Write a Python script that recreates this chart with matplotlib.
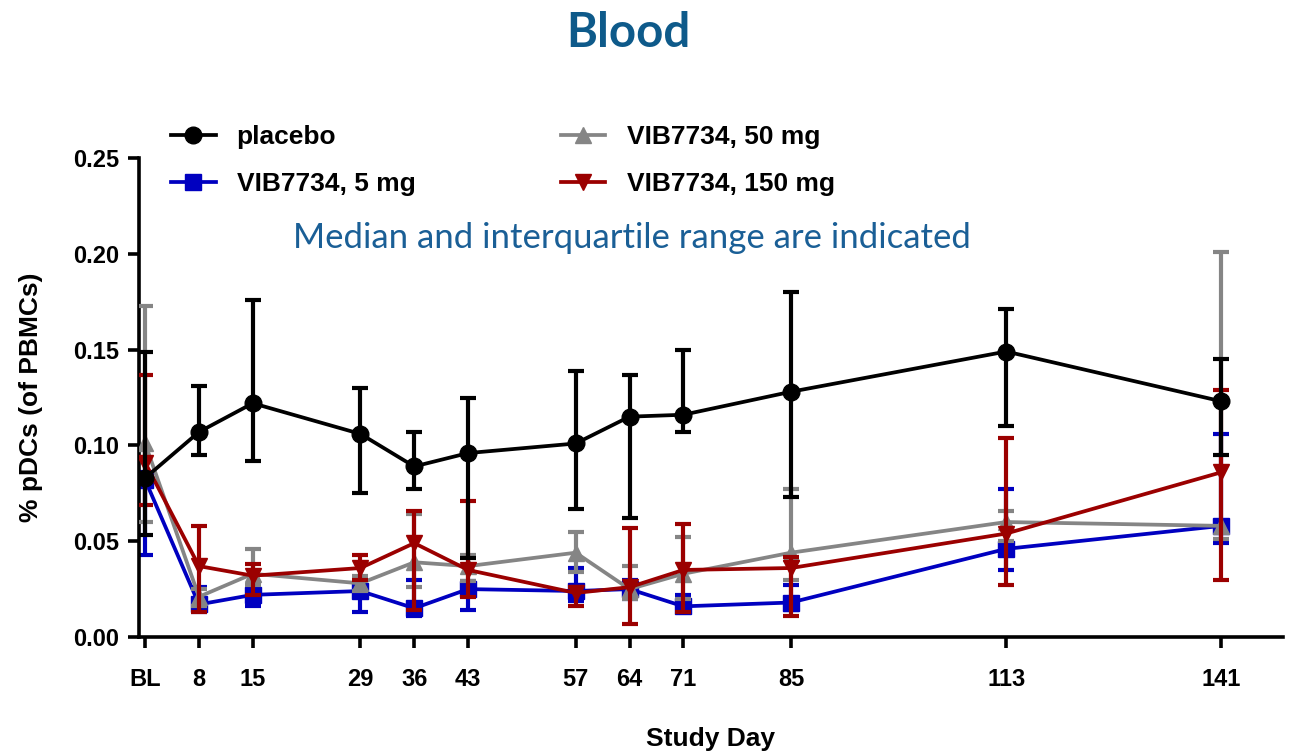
import numpy as np
import matplotlib
matplotlib.use("Agg")
import matplotlib.pyplot as plt

# Study days (BL plotted at day 1) and tick labels
days = [1, 8, 15, 29, 36, 43, 57, 64, 71, 85, 113, 141]
day_labels = ["BL", "8", "15", "29", "36", "43", "57", "64", "71", "85", "113", "141"]

# % pDCs of PBMCs: median with lower / upper quartile
placebo_med = [0.083, 0.107, 0.122, 0.106, 0.089, 0.096, 0.101, 0.115, 0.116, 0.128, 0.149, 0.123]
placebo_lo = [0.053, 0.095, 0.092, 0.075, 0.077, 0.041, 0.067, 0.062, 0.107, 0.073, 0.110, 0.095]
placebo_hi = [0.149, 0.131, 0.176, 0.130, 0.107, 0.125, 0.139, 0.137, 0.150, 0.180, 0.171, 0.145]

mg5_med = [0.082, 0.017, 0.022, 0.024, 0.015, 0.025, 0.024, 0.025, 0.016, 0.018, 0.046, 0.058]
mg5_lo = [0.043, 0.013, 0.016, 0.013, 0.011, 0.014, 0.019, 0.020, 0.013, 0.014, 0.035, 0.049]
mg5_hi = [0.086, 0.026, 0.026, 0.030, 0.030, 0.029, 0.036, 0.030, 0.022, 0.027, 0.077, 0.106]

mg50_med = [0.101, 0.021, 0.033, 0.028, 0.039, 0.037, 0.044, 0.025, 0.033, 0.044, 0.060, 0.058]
mg50_lo = [0.060, 0.016, 0.027, 0.024, 0.026, 0.029, 0.034, 0.020, 0.020, 0.030, 0.050, 0.051]
mg50_hi = [0.173, 0.025, 0.046, 0.032, 0.064, 0.043, 0.055, 0.037, 0.052, 0.077, 0.066, 0.201]

mg150_med = [0.091, 0.037, 0.032, 0.036, 0.049, 0.035, 0.023, 0.026, 0.035, 0.036, 0.054, 0.086]
mg150_lo = [0.069, 0.013, 0.022, 0.030, 0.014, 0.021, 0.016, 0.007, 0.013, 0.011, 0.027, 0.030]
mg150_hi = [0.137, 0.058, 0.038, 0.043, 0.066, 0.071, 0.026, 0.057, 0.059, 0.042, 0.104, 0.129]

TITLE_BLUE = "#0e5a8a"
NOTE_BLUE = "#1a5f96"

plt.rcParams["font.family"] = ["Liberation Sans", "DejaVu Sans"]
plt.rcParams["font.weight"] = "bold"

fig = plt.figure(figsize=(12.91, 7.51), dpi=100)
ax = fig.add_axes([139 / 1291, 1 - 637 / 751, (1283 - 139) / 1291, (637 - 158) / 751])

series = [
    ("VIB7734, 5 mg", mg5_med, mg5_lo, mg5_hi, "#0000c0", "s", 11, 2),
    ("VIB7734, 50 mg", mg50_med, mg50_lo, mg50_hi, "#858585", "^", 12, 3),
    ("VIB7734, 150 mg", mg150_med, mg150_lo, mg150_hi, "#9b0000", "v", 12, 4),
    ("placebo", placebo_med, placebo_lo, placebo_hi, "#000000", "o", 12, 5),
]

handles = {}
for label, med, lo, hi, color, marker, ms, z in series:
    med = np.array(med)
    err = [med - np.array(lo), np.array(hi) - med]
    h = ax.errorbar(days, med, yerr=err, color=color, marker=marker, markersize=ms,
                    linewidth=2.7, elinewidth=3.0, capsize=6, capthick=3.0, zorder=z,
                    label=label)
    handles[label] = h

ax.set_xlim(0.2, 149)
ax.set_ylim(0, 0.25)
ax.set_xticks(days)
ax.set_xticklabels(day_labels)
ax.set_yticks([0, 0.05, 0.10, 0.15, 0.20, 0.25])
ax.set_yticklabels(["0.00", "0.05", "0.10", "0.15", "0.20", "0.25"])

for side in ("top", "right"):
    ax.spines[side].set_visible(False)
for side in ("left", "bottom"):
    ax.spines[side].set_linewidth(2.6)
ax.tick_params(axis="both", length=8, width=2.6, labelsize=17, direction="out")
ax.tick_params(axis="x", pad=14)
ax.tick_params(axis="y", pad=6)

ax.set_xlabel("Study Day", fontsize=19, fontweight="bold", labelpad=26)
ax.set_ylabel("% pDCs (of PBMCs)", fontsize=19, fontweight="bold", labelpad=22)

order = ["placebo", "VIB7734, 5 mg", "VIB7734, 50 mg", "VIB7734, 150 mg"]
leg_handles = [handles[k][0] for k in order]
fig.legend(leg_handles, order, ncol=2, loc="upper left",
           bbox_to_anchor=(147 / 1291, 1 - 101 / 751), frameon=False,
           prop={"size": 19, "weight": "bold"}, handlelength=1.7,
           columnspacing=5.5, labelspacing=0.9, handletextpad=0.8)

fig.text(628 / 1291, 1 - 33 / 751, "Blood", ha="center", va="center",
         fontsize=34, fontweight="bold", color=TITLE_BLUE, family="Lato")
fig.text(632 / 1291, 1 - 238 / 751, "Median and interquartile range are indicated",
         ha="center", va="center", fontsize=25, fontweight="normal",
         color=NOTE_BLUE, family="Lato")

fig.savefig("out.png", dpi=100)
